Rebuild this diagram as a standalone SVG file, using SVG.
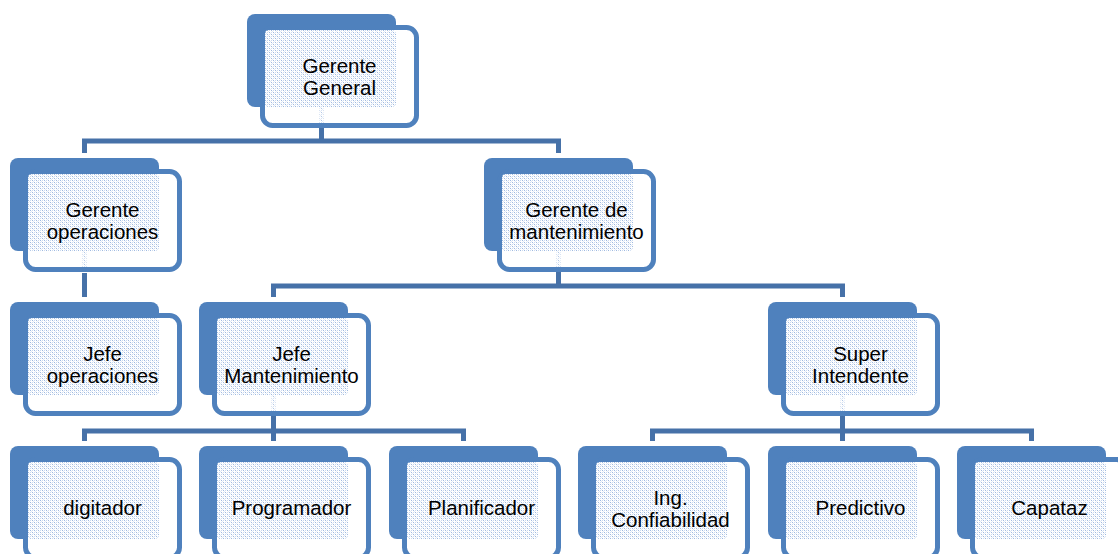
<svg xmlns="http://www.w3.org/2000/svg" width="1118" height="554" viewBox="0 0 1118 554">
  <defs>
    <!-- light stipple used inside the front cards -->
    <pattern id="dots" x="0" y="0" width="4" height="4" patternUnits="userSpaceOnUse">
      <rect width="4" height="4" fill="#ffffff"/>
      <rect x="0" y="0" width="1" height="1" fill="#9fb9e0"/>
      <rect x="2" y="2" width="1" height="1" fill="#9fb9e0"/>
      <rect x="2" y="0" width="1" height="1" fill="#cbdaef"/>
      <rect x="0" y="2" width="1" height="1" fill="#cbdaef"/>
      <rect x="1" y="1" width="1" height="1" fill="#e1eaf7"/>
      <rect x="3" y="3" width="1" height="1" fill="#e1eaf7"/>
    </pattern>
    <style>
      .back { fill: #4f81bd; }
      .front { fill: #ffffff; stroke: #4f81bd; stroke-width: 5; }
      .dots { fill: url(#dots); }
      .ghost { fill: url(#dots); opacity: 0.8; }
      .lbl { font-family: "Liberation Sans", Arial, sans-serif; font-size: 20.5px; fill: #000000; text-anchor: middle; }
      .conn path { fill: none; stroke: #4671a8; stroke-width: 5; stroke-linejoin: miter; }
    </style>
  </defs>

  <rect width="1118" height="554" fill="#ffffff"/>

  <!-- connectors -->
  <g id="connectors" class="conn">
    <path d="M321.5,128 V141"/>
    <path d="M84.5,153 V141 H558.5 V153"/>
    <path d="M84.5,273 V297"/>
    <path d="M558.5,271 V286"/>
    <path d="M273.5,297 V286 H842.5 V297"/>
    <path d="M273.5,416 V441"/>
    <path d="M84.5,441 V431 H463.5 V441"/>
    <path d="M842.5,416 V441"/>
    <path d="M652.5,441 V431 H1031.5 V441"/>
  </g>

  <!-- level 0 -->
  <g id="gerente-general" transform="translate(247,14)">
    <rect class="back" width="149" height="93" rx="8"/>
    <rect class="front" x="15.5" y="13.5" width="154" height="98" rx="10"/>
    <rect class="dots" x="18" y="16" width="131" height="77" rx="4"/>
    <rect class="ghost" x="72.5" y="93" width="4" height="16"/>
    <text class="lbl" x="92.5" y="59">Gerente</text>
    <text class="lbl" x="92.5" y="81">General</text>
  </g>

  <!-- level 1 -->
  <g id="gerente-operaciones" transform="translate(10,158)">
    <rect class="back" width="149" height="93" rx="8"/>
    <rect class="front" x="15.5" y="13.5" width="154" height="98" rx="10"/>
    <rect class="dots" x="18" y="16" width="131" height="77" rx="4"/>
    <rect class="ghost" x="72.5" y="93" width="4" height="16"/>
    <text class="lbl" x="92.5" y="59">Gerente</text>
    <text class="lbl" x="92.5" y="81">operaciones</text>
  </g>

  <g id="gerente-mantenimiento" transform="translate(484,158)">
    <rect class="back" width="149" height="93" rx="8"/>
    <rect class="front" x="15.5" y="13.5" width="154" height="98" rx="10"/>
    <rect class="dots" x="18" y="16" width="131" height="77" rx="4"/>
    <rect class="ghost" x="72.5" y="93" width="4" height="16"/>
    <text class="lbl" x="92.5" y="59">Gerente de</text>
    <text class="lbl" x="92.5" y="81">mantenimiento</text>
  </g>

  <!-- level 2 -->
  <g id="jefe-operaciones" transform="translate(10,302)">
    <rect class="back" width="149" height="93" rx="8"/>
    <rect class="front" x="15.5" y="13.5" width="154" height="98" rx="10"/>
    <rect class="dots" x="18" y="16" width="131" height="77" rx="4"/>
    <text class="lbl" x="92.5" y="59">Jefe</text>
    <text class="lbl" x="92.5" y="81">operaciones</text>
  </g>

  <g id="jefe-mantenimiento" transform="translate(199,302)">
    <rect class="back" width="149" height="93" rx="8"/>
    <rect class="front" x="15.5" y="13.5" width="154" height="98" rx="10"/>
    <rect class="dots" x="18" y="16" width="131" height="77" rx="4"/>
    <rect class="ghost" x="72.5" y="93" width="4" height="16"/>
    <text class="lbl" x="92.5" y="59">Jefe</text>
    <text class="lbl" x="92.5" y="81">Mantenimiento</text>
  </g>

  <g id="super-intendente" transform="translate(768,302)">
    <rect class="back" width="149" height="93" rx="8"/>
    <rect class="front" x="15.5" y="13.5" width="154" height="98" rx="10"/>
    <rect class="dots" x="18" y="16" width="131" height="77" rx="4"/>
    <rect class="ghost" x="72.5" y="93" width="4" height="16"/>
    <text class="lbl" x="92.5" y="59">Super</text>
    <text class="lbl" x="92.5" y="81">Intendente</text>
  </g>

  <!-- level 3 -->
  <g id="digitador" transform="translate(10,446)">
    <rect class="back" width="149" height="93" rx="8"/>
    <rect class="front" x="15.5" y="13.5" width="154" height="98" rx="10"/>
    <rect class="dots" x="18" y="16" width="131" height="77" rx="4"/>
    <text class="lbl" x="92.5" y="69">digitador</text>
  </g>

  <g id="programador" transform="translate(199,446)">
    <rect class="back" width="149" height="93" rx="8"/>
    <rect class="front" x="15.5" y="13.5" width="154" height="98" rx="10"/>
    <rect class="dots" x="18" y="16" width="131" height="77" rx="4"/>
    <text class="lbl" x="92.5" y="69">Programador</text>
  </g>

  <g id="planificador" transform="translate(389,446)">
    <rect class="back" width="149" height="93" rx="8"/>
    <rect class="front" x="15.5" y="13.5" width="154" height="98" rx="10"/>
    <rect class="dots" x="18" y="16" width="131" height="77" rx="4"/>
    <text class="lbl" x="92.5" y="69">Planificador</text>
  </g>

  <g id="ing-confiabilidad" transform="translate(578,446)">
    <rect class="back" width="149" height="93" rx="8"/>
    <rect class="front" x="15.5" y="13.5" width="154" height="98" rx="10"/>
    <rect class="dots" x="18" y="16" width="131" height="77" rx="4"/>
    <text class="lbl" x="92.5" y="59">Ing.</text>
    <text class="lbl" x="92.5" y="81">Confiabilidad</text>
  </g>

  <g id="predictivo" transform="translate(768,446)">
    <rect class="back" width="149" height="93" rx="8"/>
    <rect class="front" x="15.5" y="13.5" width="154" height="98" rx="10"/>
    <rect class="dots" x="18" y="16" width="131" height="77" rx="4"/>
    <text class="lbl" x="92.5" y="69">Predictivo</text>
  </g>

  <g id="capataz" transform="translate(957,446)">
    <rect class="back" width="149" height="93" rx="8"/>
    <rect class="front" x="15.5" y="13.5" width="154" height="98" rx="10"/>
    <rect class="dots" x="18" y="16" width="131" height="77" rx="4"/>
    <text class="lbl" x="92.5" y="69">Capataz</text>
  </g>
</svg>
